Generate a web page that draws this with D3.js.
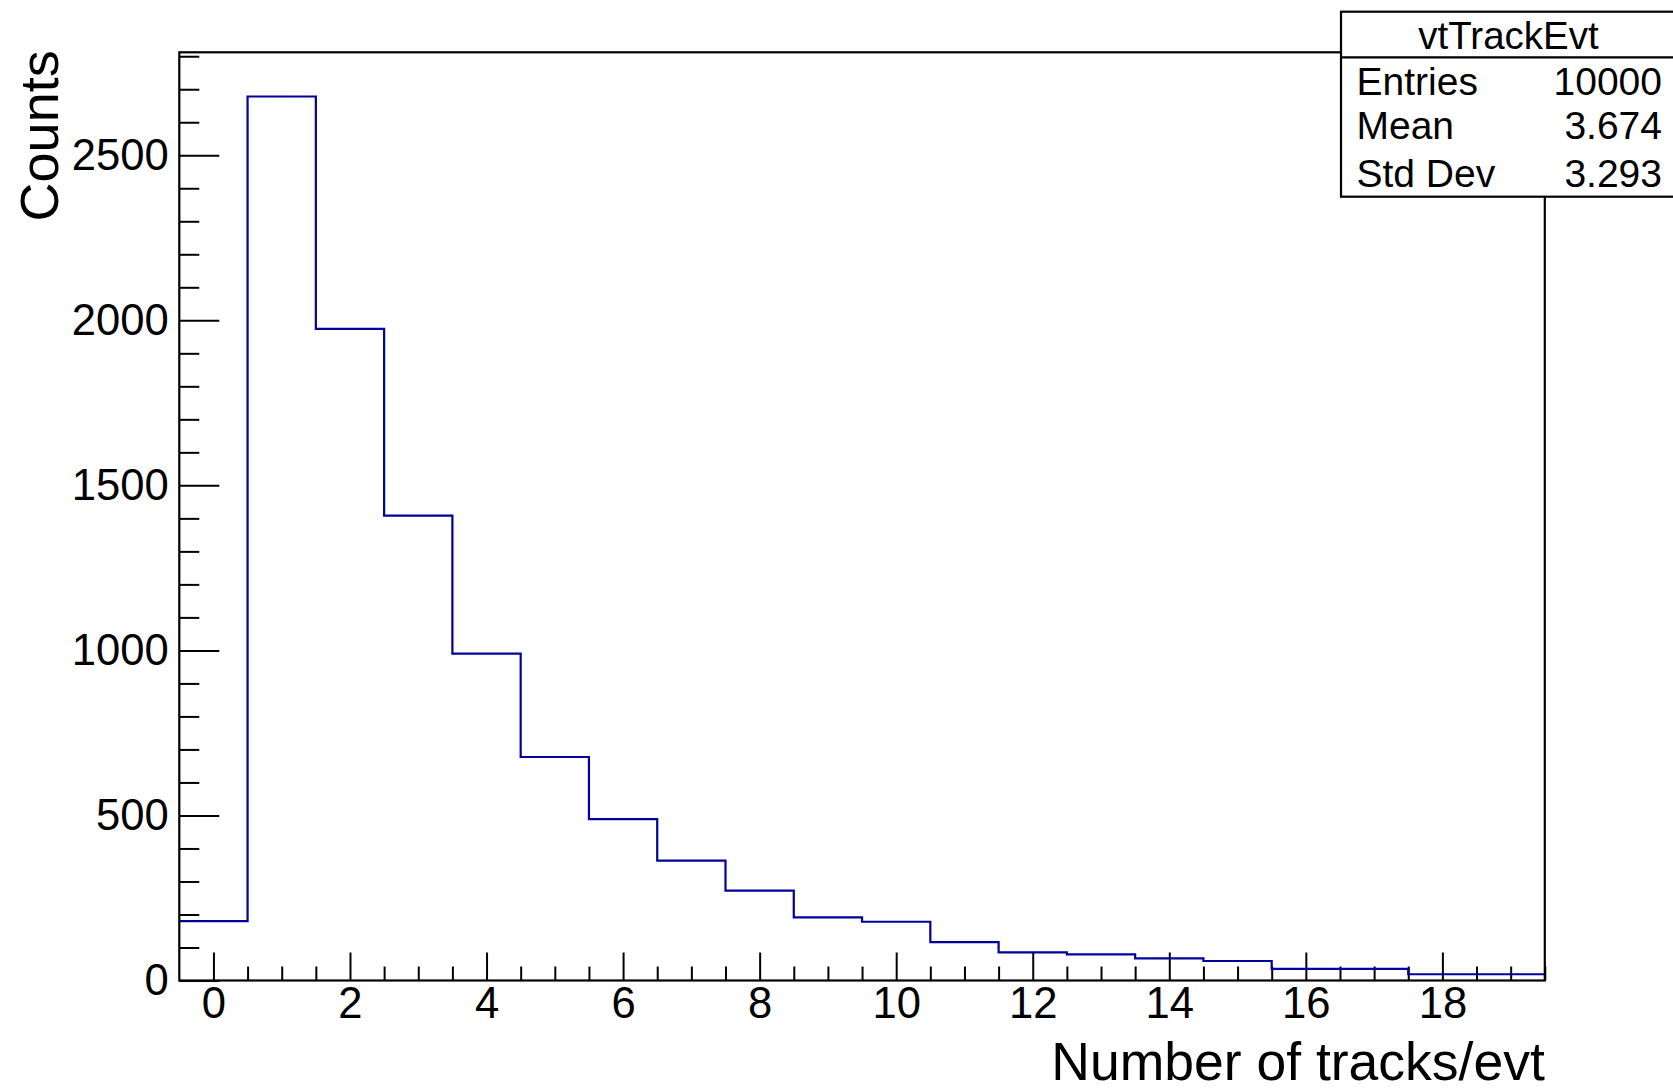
<!DOCTYPE html>
<html>
<head>
<meta charset="utf-8">
<script src="https://cdn.jsdelivr.net/npm/d3@7"></script>
<style>
  html, body { margin: 0; padding: 0; background: #fff; }
  svg { display: block; }
  text { font-family: "Liberation Sans", Arial, Helvetica, sans-serif; fill: #000; }
</style>
</head>
<body>
<svg id="chart" width="1673" height="1090"></svg>
<script>
// Histogram of reconstructed tracks per event: one bin per integer count.
const binCenters = [0, 1, 2, 3, 4, 5, 6, 7, 8, 9, 10, 11, 12, 13, 14, 15, 16, 17, 18, 19];
const binCounts  = [180, 2678, 1974, 1408, 990, 677, 489, 363, 272, 191, 178, 116, 85, 79, 67, 59, 35, 35, 19, 19];

const xTickValues = [0, 2, 4, 6, 8, 10, 12, 14, 16, 18];
const yTickValues = [0, 500, 1000, 1500, 2000, 2500];

const histName   = "vtTrackEvt";
const statLabels = ["Entries", "Mean", "Std Dev"];
const statValues = ["10000", "3.674", "3.293"];

const xTitle = "Number of tracks/evt";
const yTitle = "Counts";

// Frame geometry
const frame = { left: 179.3, right: 1544.8, top: 52.3, bottom: 980.5 };
const binWidth = 1;

const svg = d3.select("#chart");

const x = d3.scaleLinear()
  .domain([binCenters[0] - binWidth / 2, binCenters[binCenters.length - 1] + binWidth / 2])
  .range([frame.left, frame.right]);

const y = d3.scaleLinear()
  .domain([0, d3.max(binCounts) * 1.05])
  .range([frame.bottom, frame.top]);

const labelSize = 43.6;
const titleSize = 54;

// Minor ticks
const xMinor = d3.range(0, 19.5 + 1e-9, 0.5).filter(v => !xTickValues.includes(v));
const yMinor = d3.range(0, y.domain()[1], 100).filter(v => !yTickValues.includes(v));

const xMinorAxis = svg.append("g")
  .attr("transform", `translate(0,${frame.bottom})`)
  .call(d3.axisBottom(x).tickValues(xMinor).tickSize(-14).tickFormat(""));
const yMinorAxis = svg.append("g")
  .attr("transform", `translate(${frame.left},0)`)
  .call(d3.axisLeft(y).tickValues(yMinor).tickSize(-20).tickFormat(""));

// Major ticks with labels
const xAxis = svg.append("g")
  .attr("transform", `translate(0,${frame.bottom})`)
  .call(d3.axisBottom(x).tickValues(xTickValues).tickSize(-28).tickPadding(7).tickFormat(d3.format("d")));
const yAxis = svg.append("g")
  .attr("transform", `translate(${frame.left},0)`)
  .call(d3.axisLeft(y).tickValues(yTickValues).tickSize(-40).tickPadding(10.5).tickFormat(d3.format("d")));

[xMinorAxis, yMinorAxis, xAxis, yAxis].forEach(g => {
  g.select(".domain").remove();
  g.selectAll(".tick line").attr("stroke", "#000").attr("stroke-width", 2);
  g.selectAll(".tick text")
    .style("font-family", '"Liberation Sans", Arial, Helvetica, sans-serif')
    .style("font-size", labelSize + "px")
    .attr("fill", "#000");
});

// Histogram outline as a step line
const stepPoints = [];
binCenters.forEach((c, i) => {
  stepPoints.push([c - binWidth / 2, binCounts[i]]);
  stepPoints.push([c + binWidth / 2, binCounts[i]]);
});
svg.append("path")
  .datum(stepPoints)
  .attr("fill", "none")
  .attr("stroke", "#00009a")
  .attr("stroke-width", 2.2)
  .attr("d", d3.line().x(d => x(d[0])).y(d => y(d[1])));

// Frame
svg.append("rect")
  .attr("x", frame.left).attr("y", frame.top)
  .attr("width", frame.right - frame.left)
  .attr("height", frame.bottom - frame.top)
  .attr("fill", "none")
  .attr("stroke", "#000")
  .attr("stroke-width", 2.2);

// Axis titles
svg.append("text")
  .attr("x", frame.right)
  .attr("y", 1080)
  .attr("text-anchor", "end")
  .style("font-size", "53.5px")
  .text(xTitle);

svg.append("text")
  .attr("transform", `translate(58,${frame.top - 2}) rotate(-90)`)
  .attr("text-anchor", "end")
  .style("font-size", titleSize + "px")
  .text(yTitle);

// Statistics box
const box = { left: 1341, top: 11.7, right: 1675, bottom: 196.7, divider: 57.3 };
const stats = svg.append("g");
stats.append("rect")
  .attr("x", box.left).attr("y", box.top)
  .attr("width", box.right - box.left)
  .attr("height", box.bottom - box.top)
  .attr("fill", "#fff")
  .attr("stroke", "#000")
  .attr("stroke-width", 2.2);
stats.append("line")
  .attr("x1", box.left).attr("x2", box.right)
  .attr("y1", box.divider).attr("y2", box.divider)
  .attr("stroke", "#000")
  .attr("stroke-width", 2.2);
stats.append("text")
  .attr("x", 1508.5)
  .attr("y", 49)
  .attr("text-anchor", "middle")
  .style("font-size", "38.5px")
  .text(histName);

const rowBaselines = [94.5, 139, 187];
statLabels.forEach((lab, i) => {
  stats.append("text")
    .attr("x", 1356.5)
    .attr("y", rowBaselines[i])
    .style("font-size", "39px")
    .text(lab);
  stats.append("text")
    .attr("x", 1662)
    .attr("y", rowBaselines[i])
    .attr("text-anchor", "end")
    .style("font-size", "39px")
    .text(statValues[i]);
});
</script>
</body>
</html>
